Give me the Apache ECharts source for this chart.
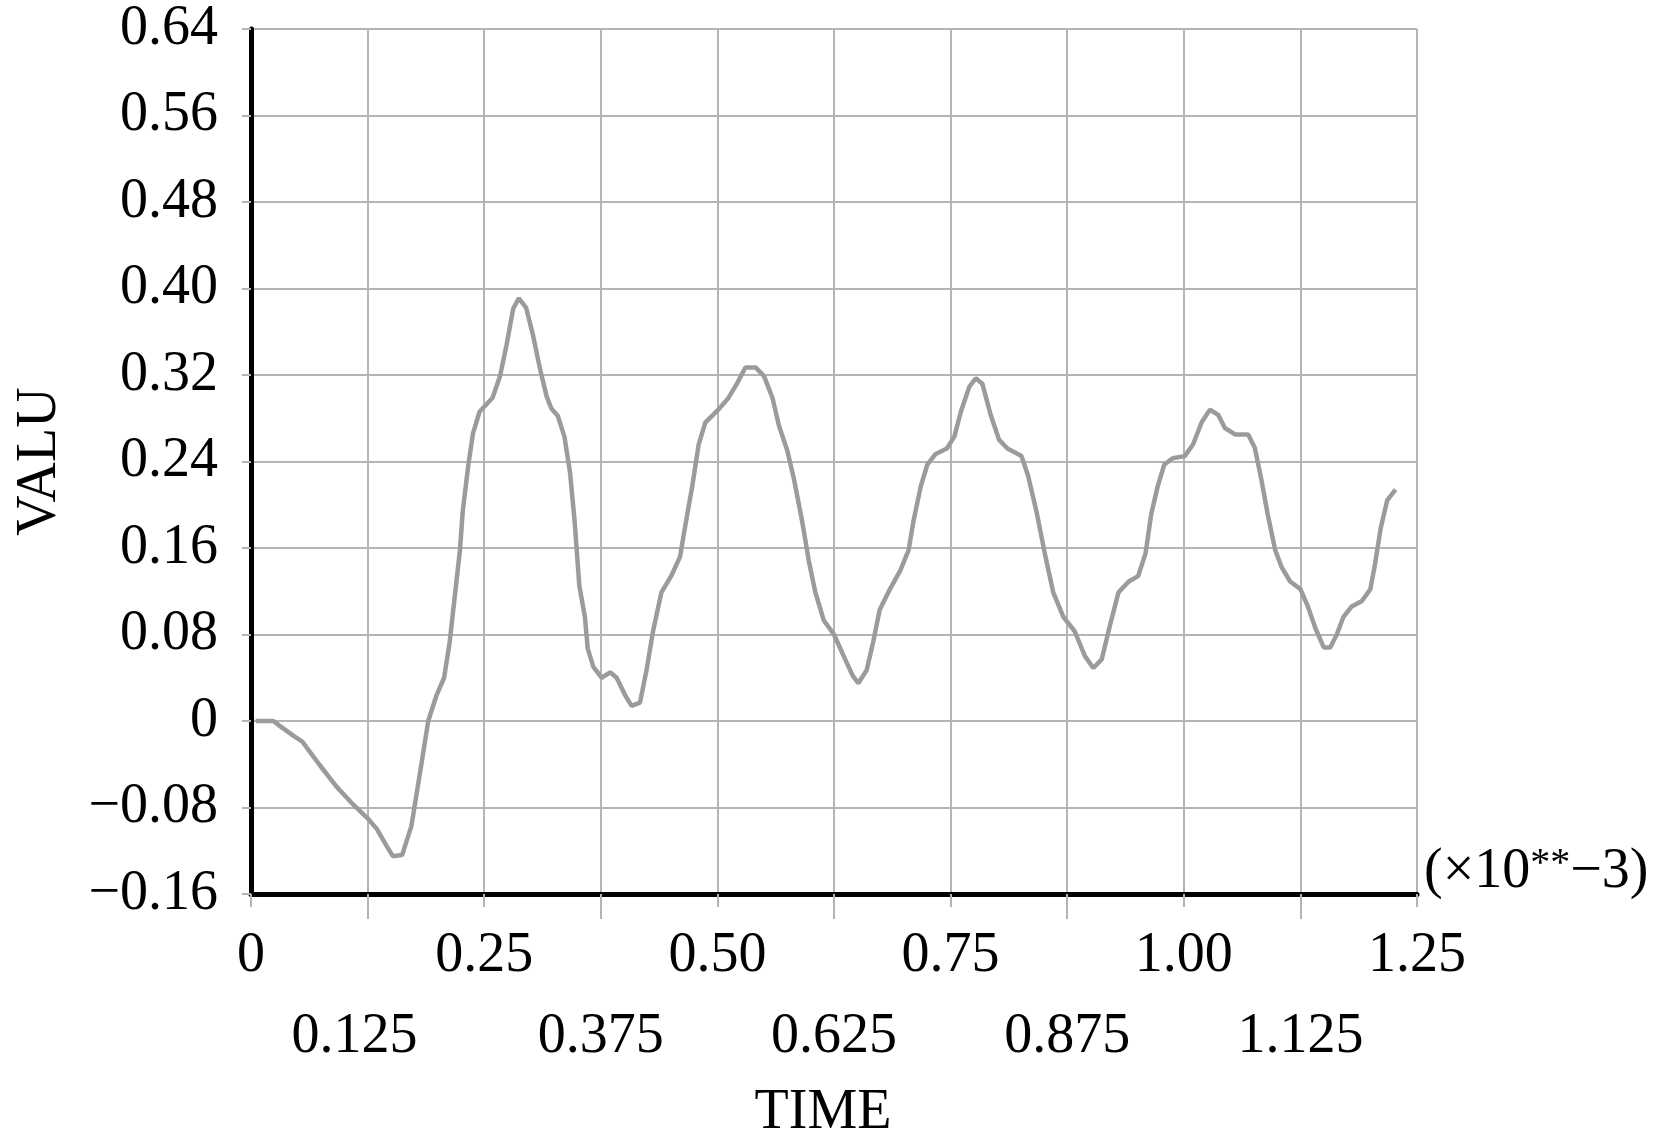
<!DOCTYPE html>
<html>
<head>
<meta charset="utf-8">
<script src="https://cdn.jsdelivr.net/npm/echarts@6/dist/echarts.min.js"></script>
<style>
html,body{margin:0;padding:0;background:#fff;}
#chart{width:1654px;height:1146px;}
</style>
</head>
<body>
<div id="chart"></div>
<script>
// Data (time in units of 10^-3)
const timeValues = [0.005,0.024,0.030,0.046,0.055,0.073,0.091,0.107,0.125,0.135,0.145,0.152,0.162,0.172,0.183,0.190,0.199,0.207,0.213,0.218,0.224,0.227,0.233,0.238,0.245,0.259,0.267,0.274,0.281,0.287,0.295,0.302,0.310,0.317,0.322,0.329,0.336,0.342,0.347,0.352,0.358,0.361,0.367,0.376,0.385,0.392,0.401,0.408,0.417,0.424,0.431,0.440,0.451,0.460,0.465,0.473,0.480,0.487,0.501,0.512,0.521,0.530,0.541,0.550,0.559,0.566,0.575,0.582,0.591,0.598,0.605,0.614,0.625,0.637,0.645,0.651,0.660,0.667,0.674,0.685,0.696,0.705,0.710,0.718,0.725,0.734,0.746,0.754,0.761,0.770,0.777,0.784,0.793,0.802,0.811,0.826,0.833,0.842,0.851,0.860,0.871,0.883,0.894,0.903,0.912,0.921,0.930,0.941,0.951,0.959,0.965,0.972,0.979,0.988,1.001,1.010,1.019,1.028,1.037,1.044,1.055,1.069,1.076,1.083,1.090,1.098,1.105,1.114,1.125,1.133,1.141,1.150,1.157,1.164,1.171,1.180,1.191,1.200,1.205,1.211,1.218,1.227];
const signalValues = [0,0,-0.004,-0.014,-0.019,-0.040,-0.060,-0.075,-0.090,-0.100,-0.115,-0.125,-0.124,-0.097,-0.038,0.000,0.024,0.040,0.073,0.112,0.158,0.194,0.237,0.266,0.286,0.299,0.319,0.348,0.381,0.391,0.382,0.358,0.325,0.300,0.289,0.282,0.263,0.230,0.184,0.125,0.096,0.067,0.050,0.040,0.045,0.040,0.024,0.014,0.017,0.047,0.083,0.119,0.135,0.152,0.178,0.217,0.256,0.276,0.288,0.299,0.312,0.327,0.327,0.319,0.299,0.273,0.250,0.224,0.184,0.148,0.119,0.093,0.080,0.057,0.042,0.035,0.047,0.073,0.103,0.122,0.139,0.158,0.184,0.217,0.237,0.247,0.252,0.263,0.286,0.309,0.317,0.312,0.283,0.260,0.252,0.245,0.227,0.194,0.155,0.119,0.096,0.083,0.060,0.049,0.057,0.089,0.119,0.129,0.134,0.155,0.191,0.217,0.237,0.243,0.245,0.256,0.276,0.288,0.283,0.271,0.265,0.265,0.253,0.224,0.191,0.158,0.142,0.129,0.122,0.106,0.086,0.068,0.068,0.080,0.096,0.106,0.111,0.122,0.145,0.178,0.204,0.214];
const xMajorTicks = ['0','0.25','0.50','0.75','1.00','1.25'];
const xMinorTicks = ['0.125','0.375','0.625','0.875','1.125'];
const yTicks = ['−0.16','−0.08','0','0.08','0.16','0.24','0.32','0.40','0.48','0.56','0.64'];
const xUnitParts = ['(×10', '**', '−3)'];

const FONT = '"Liberation Serif","Times New Roman",serif';
const FS = 56;
const GRID_COLOR = '#b4b4b4';

const chart = echarts.init(document.getElementById('chart'));
const lineData = timeValues.map((t, i) => [t, signalValues[i]]);

chart.setOption({
  backgroundColor: '#fff',
  animation: false,
  grid: { left: 251, top: 29, width: 1166, height: 868, containLabel: false },
  xAxis: [{
    type: 'value', min: 0, max: 1.25, interval: 0.25, position: 'bottom',
    axisLine: { show: true, onZero: false, lineStyle: { color: '#000', width: 5 } },
    axisTick: { show: true, length: 13, lineStyle: { color: GRID_COLOR, width: 2 } },
    minorTick: { show: true, splitNumber: 2, length: 25, lineStyle: { color: GRID_COLOR, width: 2 } },
    splitLine: { show: true, lineStyle: { color: GRID_COLOR, width: 2 } },
    minorSplitLine: { show: true, lineStyle: { color: GRID_COLOR, width: 2 } },
    axisLabel: {
      margin: 62, fontSize: FS, fontFamily: FONT, color: '#000', verticalAlign: 'middle',
      showMinLabel: true, showMaxLabel: true,
      formatter: v => xMajorTicks[Math.round(v / 0.25)] || ''
    },
    name: 'TIME', nameLocation: 'middle', nameGap: 219,
    nameTextStyle: { fontSize: FS, fontFamily: FONT, color: '#000', verticalAlign: 'middle', padding: [0, 22, 0, 0] }
  }, {
    type: 'value', min: 0, max: 1.25, interval: 0.125, position: 'bottom',
    axisLine: { show: false }, axisTick: { show: false }, splitLine: { show: false },
    axisLabel: {
      margin: 143, fontSize: FS, fontFamily: FONT, color: '#000', verticalAlign: 'middle',
      showMinLabel: true, showMaxLabel: true,
      formatter: v => {
        const k = Math.round(v / 0.125);
        if (k % 2 !== 1) return '';
        const txt = xMinorTicks[(k - 1) / 2];
        return k === 1 ? '{s|' + txt + '}' : txt;
      },
      rich: { s: { fontSize: FS, fontFamily: FONT, color: '#000', padding: [0, 26, 0, 0] } }
    }
  }],
  yAxis: {
    type: 'value', min: -0.16, max: 0.64, interval: 0.08,
    axisLine: { show: true, onZero: false, lineStyle: { color: '#000', width: 5 } },
    axisTick: { show: true, length: 9, lineStyle: { color: GRID_COLOR, width: 2 } },
    splitLine: { show: true, lineStyle: { color: GRID_COLOR, width: 2 } },
    axisLabel: {
      margin: 33, fontSize: FS, fontFamily: FONT, color: '#000',
      showMinLabel: true, showMaxLabel: true,
      formatter: v => yTicks[Math.round((v + 0.16) / 0.08)] || ''
    },
    name: 'VALU', nameLocation: 'middle', nameGap: 211, nameRotate: 90,
    nameTextStyle: { fontSize: FS, fontFamily: FONT, color: '#000', verticalAlign: 'middle' }
  },
  graphic: [{
    type: 'text', x: 1424, y: 872, silent: true,
    style: {
      text: '{a|' + xUnitParts[0] + '}{b|' + xUnitParts[1] + '}{a|' + xUnitParts[2] + '}',
      fontSize: FS, fontFamily: FONT, fill: '#000',
      align: 'left', verticalAlign: 'middle', textAlign: 'left', textVerticalAlign: 'middle',
      rich: {
        a: { fontSize: FS, fontFamily: FONT, fill: '#000' },
        b: { fontSize: 40, fontFamily: FONT, fill: '#000', verticalAlign: 'top' }
      }
    }
  }],
  series: [{
    type: 'line', xAxisIndex: 0, yAxisIndex: 0, data: lineData,
    showSymbol: false, smooth: false,
    lineStyle: { color: '#9b9b9b', width: 4.5 }
  }]
});
</script>
</body>
</html>
